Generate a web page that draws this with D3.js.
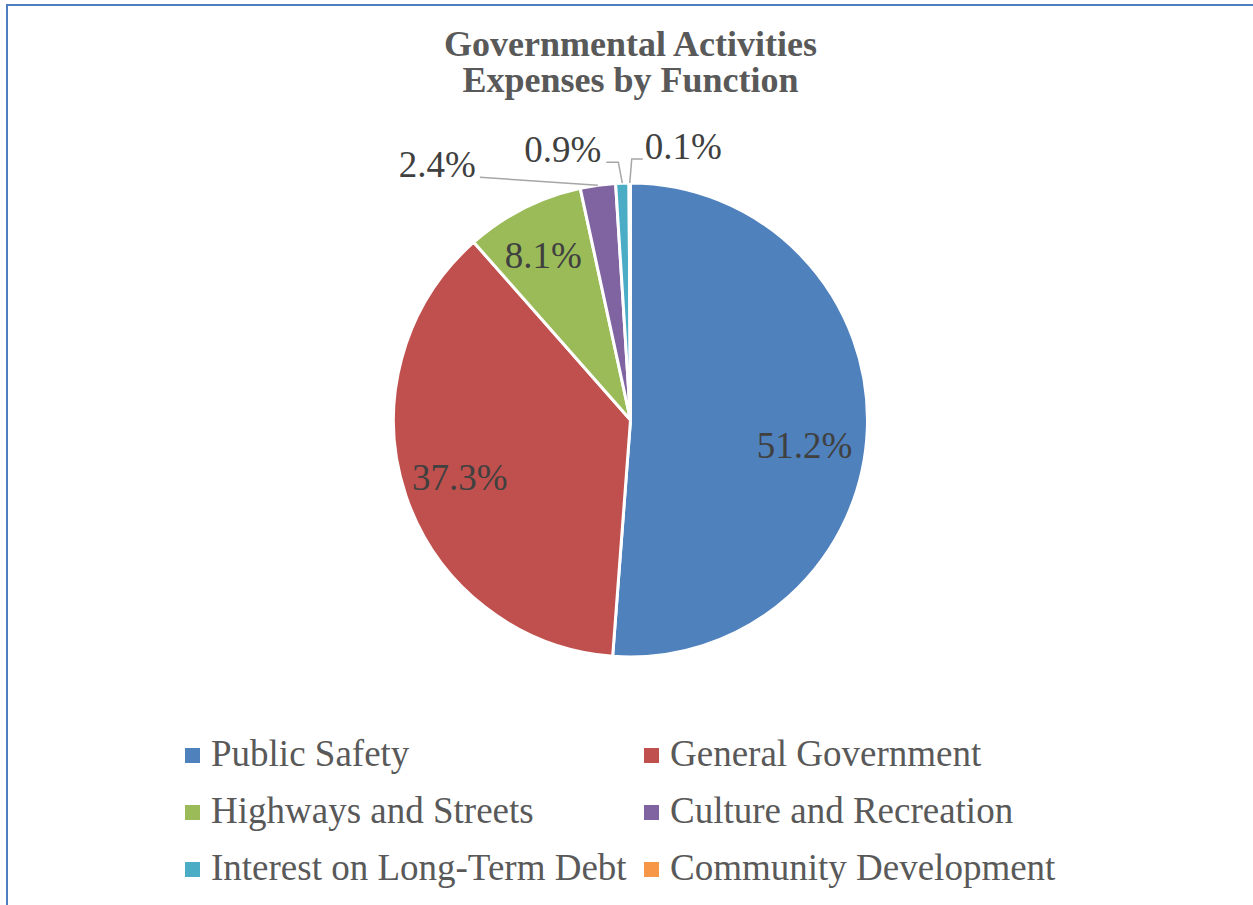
<!DOCTYPE html>
<html>
<head>
<meta charset="utf-8">
<script src="https://cdn.jsdelivr.net/npm/d3@7"></script>
<style>
  body { margin: 0; background: #fff; }
  svg { display: block; }
  .title { font-family: "Liberation Serif", "Times New Roman", serif; font-weight: bold; font-size: 36px; fill: #595959; }
  .label { font-family: "Liberation Serif", "Times New Roman", serif; font-size: 37px; fill: #404040; }
  .legend { font-family: "Liberation Serif", "Times New Roman", serif; font-size: 37px; fill: #595959; }
</style>
</head>
<body>
<div id="container"></div>
<script>
// Data ---------- ---------- ----------
let categories = ["Public Safety", "General Government", "Highways and Streets",
                  "Culture and Recreation", "Interest on Long-Term Debt", "Community Development"];
let values = [51.2, 37.3, 8.1, 2.4, 0.9, 0.1];
let colors = ["#4F81BD", "#C0504D", "#9BBB59", "#8064A2", "#4BACC6", "#F79646"];
let titleLines = ["Governmental Activities", "Expenses by Function"];

// Layout ---------- ---------- ----------
let canvasW = 1253, canvasH = 905;
let cx = 630.5, cy = 420, radius = 237;

let svg = d3.select("#container").append("svg").attr("width", canvasW).attr("height", canvasH);

// Frame
svg.append("rect").attr("x", 7).attr("y", 5).attr("width", canvasW + 20).attr("height", canvasH + 20)
    .attr("fill", "none").attr("stroke", "#4F7EC0").attr("stroke-width", 2);

// Title
svg.selectAll(".title").data(titleLines).enter().append("text")
    .attr("class", "title").attr("text-anchor", "middle")
    .attr("x", cx).attr("y", (d, i) => 56 + i * 36)
    .text(d => d);

// Pie
let pie = d3.pie().sort(null).value(d => d)(values);
let arc = d3.arc().innerRadius(0).outerRadius(radius);
let g = svg.append("g").attr("transform", "translate(" + cx + "," + cy + ")");

g.selectAll(".slice").data(pie).enter().append("path")
    .attr("class", "slice")
    .attr("d", arc)
    .attr("fill", (d, i) => colors[i])
    .attr("stroke", "#fff").attr("stroke-width", 3).attr("stroke-linejoin", "round");

// Inside labels (large slices)
let inner = d3.arc().innerRadius(0).outerRadius(radius * 1.52);
let innerAdj = [[-6, 18], [0, 0], [-6, -4]];
pie.slice(0, 3).forEach((d, i) => {
    let c = inner.centroid(d);
    g.append("text").attr("class", "label").attr("text-anchor", "middle")
        .attr("x", c[0] + innerAdj[i][0]).attr("y", c[1] + innerAdj[i][1] + 13)
        .text(values[i].toFixed(1) + "%");
});

// Outside labels with leader lines (small slices)
let edge = d3.arc().innerRadius(radius).outerRadius(radius);
// label anchor relative to slice edge point: [dx, dy, anchor, elbow]
let outside = [
    { i: 3, dx: -118, dy: -8, anchor: "end", elbow: false, tx: -4, ty: 0 },
    { i: 4, dx: -16, dy: -21, anchor: "end", elbow: true, tx: -5, ty: 0 },
    { i: 5, dx: 13, dy: -24, anchor: "start", elbow: true, tx: 2, ty: 0 }
];
outside.forEach(o => {
    let d = pie[o.i];
    let p = edge.centroid(d);
    let end = [p[0] + o.dx, p[1] + o.dy];
    let pts;
    if (o.elbow) {
        let ex = p[0] + (o.dx < 0 ? -4 : 2);
        pts = [p, [ex, end[1]], end];
    } else {
        pts = [p, end];
    }
    g.append("path").attr("d", d3.line()(pts))
        .attr("fill", "none").attr("stroke", "#A6A6A6").attr("stroke-width", 1.5);
    g.append("text").attr("class", "label").attr("text-anchor", o.anchor)
        .attr("x", end[0] + o.tx).attr("y", end[1] + o.ty)
        .text(values[o.i].toFixed(1) + "%");
});

// Legend
let legend = svg.selectAll(".legendItem").data(categories).enter().append("g")
    .attr("class", "legendItem")
    .attr("transform", (d, i) => "translate(" + (185 + (i % 2) * 459) + "," + (766 + Math.floor(i / 2) * 57) + ")");
legend.append("rect").attr("x", 0).attr("y", -18).attr("width", 15).attr("height", 15)
    .attr("fill", (d, i) => colors[i]);
legend.append("text").attr("class", "legend").attr("x", 26).attr("y", 0).text(d => d);
</script>
</body>
</html>
